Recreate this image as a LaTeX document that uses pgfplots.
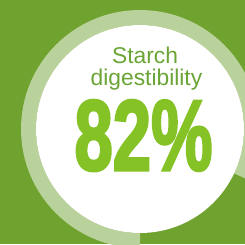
\documentclass[border=0pt]{standalone}
\usepackage{pgfplots}
\pgfplotsset{compat=1.18}
\usepackage{fontspec}
\setmainfont{Liberation Sans}
\newfontfamily\heavy[FakeBold=3]{Liberation Sans Bold}
\definecolor{bg}{HTML}{6FA22F}
\definecolor{ring}{HTML}{B9D19B}
\definecolor{lbl}{HTML}{6AA536}
\definecolor{big}{HTML}{84C225}
\begin{document}
\begin{tikzpicture}
\pgfmathsetmacro{\pct}{82}
\pgfmathsetmacro{\endang}{270-3.6*\pct}
\begin{axis}[
  scale only axis, width=245pt, height=244pt,
  xmin=0, xmax=245, ymin=0, ymax=244,
  hide axis, clip=true,
  axis background/.style={fill=bg},
]
\addplot[draw=none] coordinates {(0,0) (245,244)};
\draw[ring, line width=15pt] (axis cs:140,3.5) arc[start angle=270, end angle=\endang, radius=111.5pt];
\fill[white] (axis cs:140,115) circle[radius=104pt];
\node[anchor=base, text=lbl, font=\fontsize{22.8}{26}\selectfont] at (axis cs:145,181) {Starch};
\node[anchor=base, text=lbl, font=\fontsize{22.8}{26}\selectfont] at (axis cs:146.5,159) {digestibility};
\node[anchor=base, text=big, font=\fontsize{100}{102}\heavy, inner sep=0pt] at (axis cs:143.5,74) {\scalebox{0.69}[1]{82\%}};
\end{axis}
\pgfresetboundingbox
\useasboundingbox (current axis.south west) rectangle (current axis.north east);
\end{tikzpicture}
\end{document}
